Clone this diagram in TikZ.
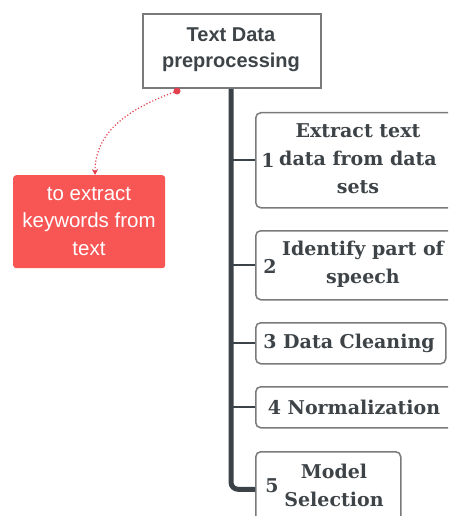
\documentclass[tikz,border=0pt]{standalone}
\usepackage{fontspec}
\setmainfont{Liberation Sans}
\newfontfamily\slab{DejaVu Serif}
\usetikzlibrary{arrows.meta}
\definecolor{ink}{HTML}{3D4347}
\definecolor{spinec}{HTML}{3B4248}
\definecolor{boxline}{HTML}{7A7A7A}
\definecolor{redbox}{HTML}{F85555}
\definecolor{reddot}{HTML}{E2404E}
\tikzset{
  topbox/.style={draw=boxline, line width=2pt, fill=white, minimum width=178pt, minimum height=74pt, anchor=north west},
  stepbox/.style={draw=boxline, line width=1.5pt, rounded corners=5pt, fill=white, anchor=north west},
  steptext/.style={text=ink, font=\slab\bfseries\fontsize{19}{28}\selectfont, align=center, inner sep=0pt},
  toptext/.style={text=ink, font=\bfseries\fontsize{20}{26}\selectfont, align=center, inner sep=0pt},
  kwbox/.style={fill=redbox, rounded corners=3pt, minimum width=152pt, minimum height=93pt, anchor=north west},
  kwtext/.style={text=white, font=\fontsize{20.5}{27.5}\selectfont, align=center, inner sep=0pt},
  spine/.style={draw=spinec, line width=5pt, rounded corners=7pt},
  branch/.style={draw=spinec, line width=1.6pt},
  link/.style={draw=reddot, line width=1.2pt, dotted, -{Stealth[length=6pt,width=6pt]}}
}
\begin{document}
\begin{tikzpicture}[x=1pt,y=-1pt]
\clip (0,0) rectangle (448,516);
\fill[white] (0,0) rectangle (448,516);
% top box
\node[topbox] (top) at (142,13) {};
\node[toptext] (toptxt) at (231,50) {Text Data\\preprocessing};
% step boxes
\node[stepbox, minimum width=210pt, minimum height=95pt] (b1) at (255,112) {};
\node[stepbox, minimum width=210pt, minimum height=69pt] (b2) at (255,230) {};
\node[stepbox, minimum width=190pt, minimum height=41pt] (b3) at (255,322) {};
\node[stepbox, minimum width=210pt, minimum height=41pt] (b4) at (255,386) {};
\node[stepbox, minimum width=145pt, minimum height=75pt] (b5) at (255,451) {};
% spine and branches
\draw[spine] (top.south -| 231,0) |- (b5.west);
\draw[branch] (b1.west -| 231,0) -- (b1.west);
\draw[branch] (b2.west -| 231,0) -- (b2.west);
\draw[branch] (b3.west -| 231,0) -- (b3.west);
\draw[branch] (b4.west -| 231,0) -- (b4.west);
% texts
\node[steptext] (n1) at (268,160) {1};
\node[steptext] (t1) at (358,159) {Extract text\\data from data\\sets};
\node[steptext] (n2) at (270,266) {2};
\node[steptext] (t2) at (363,264) {Identify part of\\speech};
\node[steptext] (t3) at (349,343) {3 Data Cleaning};
\node[steptext] (t4) at (354,407) {4 Normalization};
\node[steptext] (n5) at (272,486) {5};
\node[steptext] (t5) at (334,485) {Model\\Selection};
% red box
\node[kwbox] (kw) at (13,175) {};
\node[kwtext] (kwtxt) at (89,221) {to extract\\keywords from\\text};
% dotted link
\coordinate (dot) at (177,91);
\fill[reddot] (dot) circle (3.5pt);
\draw[link] (dot) to[out=200,in=90] (kw.north -| 95,0);
\end{tikzpicture}
\end{document}
